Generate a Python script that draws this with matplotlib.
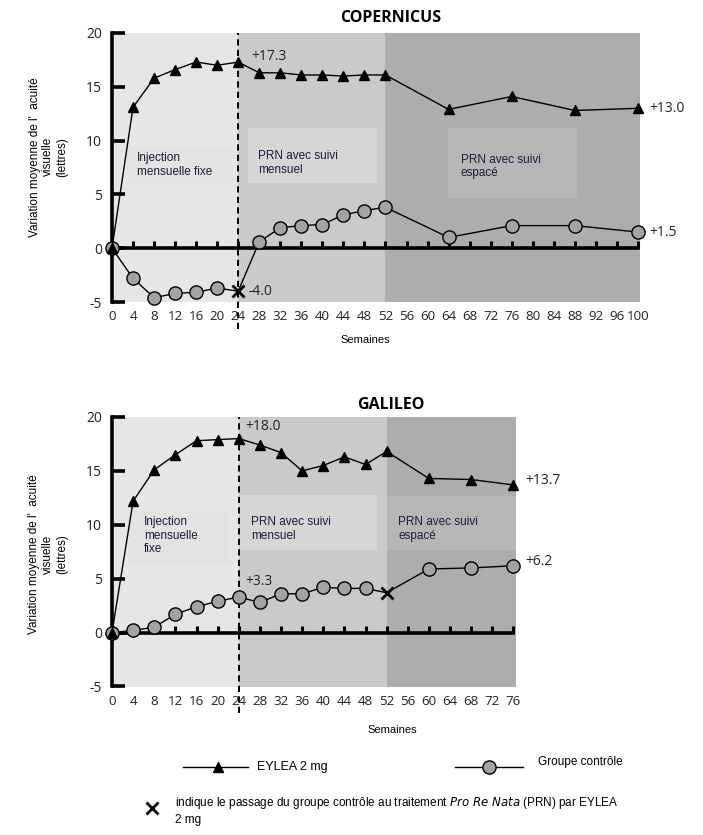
import matplotlib
matplotlib.use("Agg")
import matplotlib.pyplot as plt
from matplotlib.patches import Rectangle
from matplotlib.lines import Line2D

# ---------------- data ----------------
cop_weeks = [0, 4, 8, 12, 16, 20, 24, 28, 32, 36, 40, 44, 48, 52, 64, 76, 88, 100]
cop_eylea = [0, 13.1, 15.8, 16.6, 17.3, 17.0, 17.3, 16.3, 16.3, 16.1, 16.1, 16.0, 16.1, 16.1, 12.9, 14.1, 12.8, 13.0]
cop_control = [0, -2.8, -4.6, -4.2, -4.1, -3.7, -4.0, 0.6, 1.9, 2.1, 2.2, 3.1, 3.5, 3.8, 1.0, 2.1, 2.1, 1.5]
cop_switch_week = 24
cop_ticks = list(range(0, 101, 4))

gal_weeks = [0, 4, 8, 12, 16, 20, 24, 28, 32, 36, 40, 44, 48, 52, 60, 68, 76]
gal_eylea = [0, 12.2, 15.1, 16.5, 17.8, 17.9, 18.0, 17.4, 16.7, 15.0, 15.5, 16.3, 15.6, 16.8, 14.3, 14.2, 13.7]
gal_control = [0, 0.2, 0.5, 1.7, 2.4, 2.9, 3.3, 2.8, 3.6, 3.6, 4.2, 4.1, 4.1, 3.7, 5.9, 6.0, 6.2]
gal_switch_week = 52
gal_ticks = list(range(0, 77, 4))

y_ticks = [-5, 0, 5, 10, 15, 20]
y_ticklabels = ["-5", "0", "5", "10", "15", "20"]

phase_bounds = [0, 24, 52]
phase_colors = ["#e6e6e6", "#cacaca", "#adadad"]

ylabel = "Variation moyenne de l'  acuité\nvisuelle\n(lettres)"
label_eylea = "EYLEA 2 mg"
label_control = "Groupe contrôle"

NUM_FONT = "Open Sans"
TXT_FONT = "Liberation Sans"

W, H = 703, 835
fig = plt.figure(figsize=(W / 100, H / 100), dpi=100)


def px_axes(x0, y_top, x1, y_bot):
    return fig.add_axes([x0 / W, 1 - y_bot / H, (x1 - x0) / W, (y_bot - y_top) / H])


def draw_panel(ax, weeks, eylea, control, switch_week, ticks, xmax, boxes, texts,
               end_labels, mid_labels):
    ax.set_xlim(0, xmax)
    ax.set_ylim(-5, 20)
    # phase shading
    edges = phase_bounds + [xmax]
    for i, c in enumerate(phase_colors):
        ax.axvspan(edges[i], edges[i + 1], color=c, lw=0, zorder=0)
    # boxes
    for (x0, x1, y0, y1, c) in boxes:
        ax.add_patch(Rectangle((x0, y0), x1 - x0, y1 - y0, facecolor=c, lw=0, zorder=1))
    for (x, y, s) in texts:
        ax.text(x, y, s, ha="left", va="top", fontsize=8.5, family=TXT_FONT,
                color="#1c1c3c", linespacing=1.15, zorder=2)

    # spines
    for s in ["right", "bottom"]:
        ax.spines[s].set_visible(False)
    ax.spines["left"].set_linewidth(2.6)
    ax.spines["top"].set_position(("data", 0))
    ax.spines["top"].set_linewidth(2.6)
    ax.spines["top"].set_bounds(0, ticks[-1])
    ax.spines["top"].set_zorder(3)

    ax.set_yticks(y_ticks)
    ax.set_yticklabels(y_ticklabels, family=NUM_FONT, fontsize=10, color="#222222")
    ax.tick_params(axis="y", direction="in", length=9, width=2.6, pad=7)

    ax.set_xticks(ticks)
    ax.set_xticklabels([str(t) for t in ticks], family=NUM_FONT, fontsize=9.6,
                       color="#222222")
    ax.xaxis.set_ticks_position("both")
    ax.tick_params(axis="x", direction="out", length=5, width=2.2, top=True,
                   bottom=False, labeltop=False, labelbottom=True, pad=1)

    # dashed switch line at week 24
    ax.axvline(24, ymin=-0.1, ymax=1.0, color="black", lw=1.4,
               ls=(0, (3.2, 2.2)), clip_on=False, zorder=4)

    # control line
    ax.plot(weeks, control, color="black", lw=1.0, zorder=5, clip_on=False)
    cw = [w for w in weeks if w != switch_week]
    cv = [v for w, v in zip(weeks, control) if w != switch_week]
    ax.plot(cw, cv, ls="none", marker="o", ms=9.5, mfc="#a3a3a3", mec="black",
            mew=1.0, zorder=6, clip_on=False)
    sv = [v for w, v in zip(weeks, control) if w == switch_week]
    ax.plot([switch_week] * len(sv), sv, ls="none", marker="x", ms=8, mec="black",
            mew=2.0, zorder=7, clip_on=False)
    # eylea line
    ax.plot(weeks, eylea, color="black", lw=1.0, marker="^", ms=7.5, mfc="black",
            mec="black", zorder=8, clip_on=False)

    for (x, y, s) in end_labels + mid_labels:
        ax.text(x, y, s, ha="left", va="center", family=NUM_FONT, fontsize=10,
                color="#222222", zorder=9)


# ---------- COPERNICUS ----------
ax1 = px_axes(112, 33, 640, 302)
draw_panel(
    ax1, cop_weeks, cop_eylea, cop_control, cop_switch_week, cop_ticks, 100.4,
    boxes=[(2.8, 23.0, 5.9, 9.4, "#e3e3e3"),
           (25.9, 50.4, 6.1, 11.2, "#d6d6d6"),
           (63.9, 88.4, 4.65, 11.2, "#b6b6b6")],
    texts=[(4.7, 8.9, "Injection\nmensuelle fixe"),
           (27.8, 9.1, "PRN avec suivi\nmensuel"),
           (66.3, 8.8, "PRN avec suivi\nespacé")],
    end_labels=[(102.2, cop_eylea[-1], "+13.0"), (102.2, cop_control[-1], "+1.5")],
    mid_labels=[(26.4, cop_eylea[6] + 0.5, "+17.3"), (26.0, cop_control[6], "-4.0")],
)
ax1.set_ylabel(ylabel, family=TXT_FONT, fontsize=8.5, multialignment="center")
ax1.yaxis.set_label_coords(-0.083, 0.54)
fig.text(391 / W, 1 - 18 / H, "COPERNICUS", ha="center", va="center",
         family=NUM_FONT, fontweight="bold", fontsize=11.5)
fig.text(365 / W, 1 - 340 / H, "Semaines", ha="center", va="center",
         family=TXT_FONT, fontsize=8)

# ---------- GALILEO ----------
ax2 = px_axes(112, 417, 515.5, 686.5)
draw_panel(
    ax2, gal_weeks, gal_eylea, gal_control, gal_switch_week, gal_ticks, 76.4,
    boxes=[(3.0, 22.4, 6.3, 11.3, "#e3e3e3"),
           (24.2, 50.2, 7.7, 12.8, "#d6d6d6"),
           (52.1, 76.5, 7.7, 12.7, "#b6b6b6")],
    texts=[(6.1, 10.8, "Injection\nmensuelle\nfixe"),
           (26.4, 10.8, "PRN avec suivi\nmensuel"),
           (54.2, 10.8, "PRN avec suivi\nespacé")],
    end_labels=[(78.2, gal_eylea[-1] + 0.4, "+13.7"), (78.2, gal_control[-1] + 0.4, "+6.2")],
    mid_labels=[(25.2, gal_eylea[6] + 1.1, "+18.0"), (25.2, gal_control[6] + 1.4, "+3.3")],
)
ax2.set_ylabel(ylabel, family=TXT_FONT, fontsize=8.5, multialignment="center")
ax2.yaxis.set_label_coords(-0.109, 0.49)
fig.text(391 / W, 1 - 405 / H, "GALILEO", ha="center", va="center",
         family=NUM_FONT, fontweight="bold", fontsize=11.5)
fig.text(392 / W, 1 - 730 / H, "Semaines", ha="center", va="center",
         family=TXT_FONT, fontsize=8)

# ---------- legend ----------
lax = fig.add_axes([0, 0, 1, 1])
lax.set_xlim(0, W)
lax.set_ylim(H, 0)
lax.axis("off")
lax.add_line(Line2D([183, 248], [767, 767], color="black", lw=1.0))
lax.plot([218], [767], marker="^", ms=7.5, color="black")
lax.text(257, 767, label_eylea, va="center", ha="left", family=TXT_FONT, fontsize=9)
lax.add_line(Line2D([455, 523], [767, 767], color="black", lw=1.0))
lax.plot([489], [767], marker="o", ms=9.5, mfc="#a3a3a3", mec="black", mew=1.0)
lax.text(538, 762, label_control, va="center", ha="left", family=TXT_FONT, fontsize=8.5)
lax.plot([152], [808], marker="x", ms=8, mec="black", mew=2.0)
lax.text(175, 803, "indique le passage du groupe contrôle au traitement "
         r"$\it{Pro\ Re\ Nata}$ (PRN) par EYLEA", va="center", ha="left",
         family=TXT_FONT, fontsize=8.5)
lax.text(175, 820, "2 mg", va="center", ha="left", family=TXT_FONT, fontsize=8.5)

fig.savefig("out.png", dpi=100)
